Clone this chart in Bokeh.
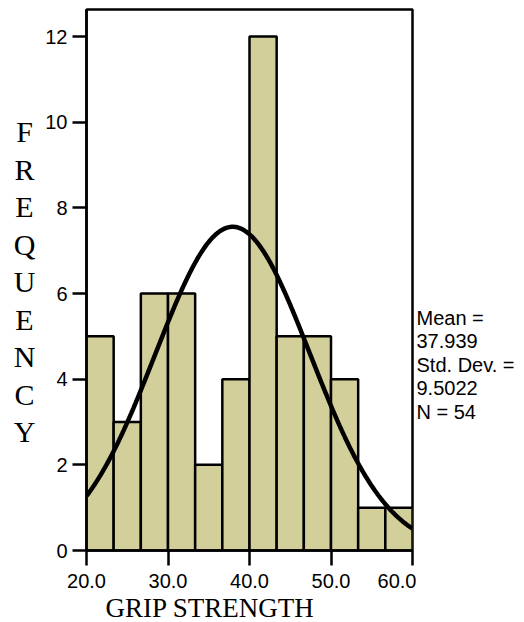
import numpy as np
from bokeh.plotting import figure
from bokeh.layouts import row
from bokeh.models import Range1d, FixedTicker, PrintfTickFormatter, Title
from bokeh.core.properties import value
from bokeh.embed import file_html
from bokeh.resources import INLINE

# ---- data ----
bin_start, bin_end, n_bins = 20.0, 60.0, 12
counts = [5, 3, 6, 6, 2, 4, 12, 5, 5, 4, 1, 1]
x_ticks = [20, 30, 40, 50, 60]
y_ticks = [0, 2, 4, 6, 8, 10, 12]
mean_val = 37.939
std_val = 9.5022
n_val = 54
y_title = "FREQUENCY"
x_title = "GRIP STRENGTH"

edges = np.linspace(bin_start, bin_end, n_bins + 1)
bin_w = edges[1] - edges[0]

# ---- layout constants (pixels) ----
W, H = 524, 622
LW = 40            # left title strip width
RX = 416           # start of right text strip
FL, FR, FT, FB = 86, 412, 9, 550
Y_MAX = 12 * (FB - FT) / (FB - 36)


def strip(width):
    f = figure(width=width, height=H, output_backend="svg", toolbar_location=None,
               x_range=Range1d(0, width), y_range=Range1d(FB, FT),
               min_border_left=0, min_border_right=0,
               min_border_top=FT, min_border_bottom=H - FB)
    f.axis.visible = False
    f.grid.visible = False
    f.outline_line_color = None
    f.background_fill_color = "white"
    f.border_fill_color = "white"
    return f


p = figure(width=RX - LW, height=H, output_backend="svg", toolbar_location=None,
           x_range=Range1d(bin_start, bin_end), y_range=Range1d(0, Y_MAX),
           min_border_left=FL - LW, min_border_right=RX - FR,
           min_border_top=FT, min_border_bottom=H - FB)
p.grid.visible = False
p.background_fill_color = "white"
p.border_fill_color = "white"
p.outline_line_color = "black"
p.outline_line_width = 2.5

p.quad(left=edges[:-1], right=edges[1:], bottom=0, top=counts,
       fill_color="#d3cf9b", line_color="black", line_width=2.5)

xs = np.linspace(bin_start, bin_end, 300)
ys = n_val * bin_w / (std_val * np.sqrt(2 * np.pi)) * np.exp(-0.5 * ((xs - mean_val) / std_val) ** 2)
p.line(xs, ys, line_color="black", line_width=4.5)

for ax in (p.xaxis[0], p.yaxis[0]):
    ax.axis_line_width = 2.5
    ax.axis_line_color = "black"
    ax.major_tick_line_width = 2.5
    ax.major_tick_line_color = "black"
    ax.major_tick_in = 0
    ax.minor_tick_line_color = None
    ax.major_label_text_font = "Liberation Sans"
    ax.major_label_text_font_size = "20px"
    ax.major_label_text_color = "black"

p.xaxis[0].ticker = FixedTicker(ticks=x_ticks)
p.xaxis[0].formatter = PrintfTickFormatter(format="%.1f")
p.xaxis[0].major_tick_out = 15
p.xaxis[0].major_label_standoff = 8
p.yaxis[0].ticker = FixedTicker(ticks=y_ticks)
p.yaxis[0].major_tick_out = 14
p.yaxis[0].major_label_standoff = 5

p.add_layout(Title(text=x_title, align="left", offset=105 - FL,
                   standoff=0, text_font="Liberation Serif", text_font_size="27px",
                   text_font_style="normal", text_color="black"), "below")

# left strip: stacked y title (y in page pixels)
left = strip(LW)
letters = list(y_title)
left.text(x=[24] * len(letters), y=[131 + i * 37.5 for i in range(len(letters))],
          text=letters, text_align="center", text_baseline="alphabetic",
          text_font=value("Liberation Serif"), text_font_size=value("30px"),
          text_color="black")

# right strip: statistics
right = strip(W - RX)
stats = ["Mean =", f"{mean_val:.3f}", "Std. Dev. =", f"{std_val:.4f}", f"N = {n_val}"]
right.text(x=[0] * len(stats), y=[317 + i * 23.5 for i in range(len(stats))],
           text=stats, text_align="left", text_baseline="alphabetic",
           text_font=value("Liberation Sans"), text_font_size=value("20px"),
           text_color="black")

layout = row(left, p, right, spacing=0)
open("out.html", "w").write(file_html(layout, INLINE))
